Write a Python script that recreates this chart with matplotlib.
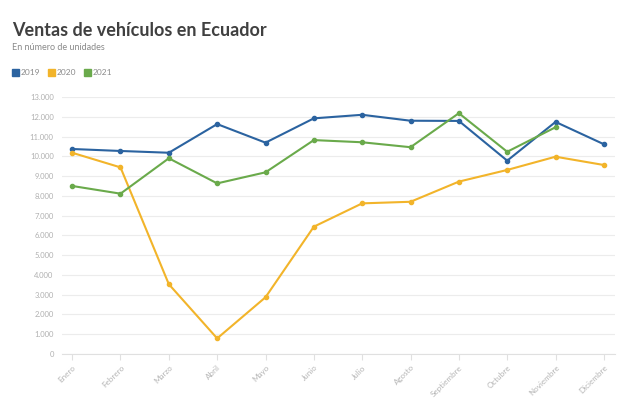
import numpy as np
import matplotlib.pyplot as plt
from matplotlib.ticker import FuncFormatter

meses = ['Enero', 'Febrero', 'Marzo', 'Abril', 'Mayo', 'Junio', 'Julio',
         'Agosto', 'Septiembre', 'Octubre', 'Noviembre', 'Diciembre']
ventas_2019 = [10370, 10270, 10180, 11630, 10690, 11920, 12100, 11800, 11790, 9780, 11740, 10610]
ventas_2020 = [10180, 9440, 3530, 790, 2870, 6440, 7620, 7700, 8720, 9310, 9980, 9560]
ventas_2021 = [8500, 8110, 9900, 8630, 9190, 10820, 10710, 10460, 12180, 10230, 11470]

series = [('2019', ventas_2019, '#2b63a0'),
          ('2020', ventas_2020, '#f2b42a'),
          ('2021', ventas_2021, '#6aaa4b')]

plt.rcParams['font.family'] = ['Lato', 'DejaVu Sans']

fig = plt.figure(figsize=(6.29, 3.98), dpi=100)
ax = fig.add_axes([62/629, 1 - 354/398, (615 - 62)/629, (354 - 97)/398])

for nombre, vals, color in series:
    x = np.arange(len(vals))
    ax.plot(x, vals, color=color, lw=1.5, marker='o', ms=3.0, label=nombre,
            clip_on=False, zorder=3)

ax.set_xlim(-0.21, 11.23)
ax.set_ylim(0, 13000)
ax.set_yticks(np.arange(0, 13001, 1000))
ax.yaxis.set_major_formatter(FuncFormatter(lambda v, p: f'{int(v):,}'.replace(',', '.')))
ax.set_xticks(np.arange(len(meses)))
ax.set_xticklabels(meses, rotation=45, ha='right', rotation_mode='anchor')
ax.tick_params(axis='y', length=0, labelsize=5.5, labelcolor='#b0b0b0', pad=6)
ax.tick_params(axis='x', length=4, color='#e0e0e0', labelsize=5.8, labelcolor='#b5b5b5', pad=3)
ax.grid(axis='y', color='#ececec', lw=0.8)
for s in ['top', 'right', 'left']:
    ax.spines[s].set_visible(False)
ax.spines['bottom'].set_color('#e0e0e0')
ax.set_axisbelow(True)

fig.text(12/629, 1 - 30/398, 'Ventas de vehículos en Ecuador', fontsize=13,
         fontweight='bold', color='#404040', va='center')
fig.text(12/629, 1 - 47/398, 'En número de unidades', fontsize=6.5,
         color='#8a8a8a', va='center')

# leyenda
lx = 12
for nombre, vals, color in series:
    fig.patches.append(plt.Rectangle((lx/629, 1 - 76/398), 7/629, 7/398,
                                     transform=fig.transFigure, color=color))
    fig.text((lx + 9)/629, 1 - 72.5/398, nombre, fontsize=6, color='#8a8a8a', va='center')
    lx += 36

plt.savefig('out.png', dpi=100)
